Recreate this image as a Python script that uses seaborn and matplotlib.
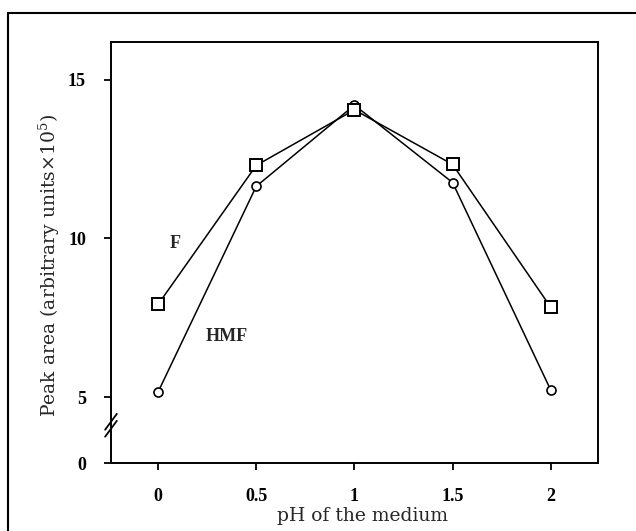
import pandas as pd
import numpy as np
import seaborn as sns
import matplotlib.pyplot as plt
from matplotlib.lines import Line2D

# data
ph = [0, 0.5, 1, 1.5, 2]
f_area = [7.92, 12.3, 14.05, 12.33, 7.83]
hmf_area = [5.16, 11.64, 14.2, 11.76, 5.22]

y_ticks = [5, 10, 15]
x_ticks = [0, 0.5, 1, 1.5, 2]
x_ticklabels = ["0", "0.5", "1", "1.5", "2"]

# broken axis: position used for the "0" tick
zero_pos = 2.92

sns.set_style("ticks")
plt.rcParams['font.family'] = ['Liberation Serif', 'DejaVu Serif']
plt.rcParams['mathtext.fontset'] = 'dejavuserif'

fig = plt.figure(figsize=(6.36, 5.31), dpi=100)
ax = fig.add_axes([0.1745, 0.128, 0.7655, 0.793])

df_f = pd.DataFrame({'ph': ph, 'area': f_area})
df_h = pd.DataFrame({'ph': ph, 'area': hmf_area})

sns.lineplot(data=df_h, x='ph', y='area', ax=ax, color='black', lw=1.1,
             marker='o', markersize=6.5, markerfacecolor='white',
             markeredgecolor='black', markeredgewidth=1.2, zorder=3)
sns.lineplot(data=df_f, x='ph', y='area', ax=ax, color='black', lw=1.1,
             marker='s', markersize=8.5, markerfacecolor='white',
             markeredgecolor='black', markeredgewidth=1.4, zorder=4)

ax.set_xlim(-0.24, 2.24)
ax.set_ylim(2.96, 16.19)
ax.set_xticks(x_ticks)
ax.set_xticklabels(x_ticklabels)
ax.set_yticks([zero_pos] + y_ticks)
ax.set_yticklabels(["0"] + [str(t) for t in y_ticks])

ax.tick_params(axis='both', direction='out', length=5, width=1.3,
               labelsize=13, colors='black')
ax.tick_params(axis='x', pad=13)
ax.tick_params(axis='y', pad=13)
for lab in ax.get_xticklabels() + ax.get_yticklabels():
    lab.set_fontweight('semibold')
for s in ax.spines.values():
    s.set_linewidth(1.4)
    s.set_color('black')

ax.set_xlabel("pH of the medium", fontsize=13.5, family='DejaVu Serif')
ax.set_ylabel(r"Peak area (arbitrary units$\times$10$^5$)", fontsize=13.5,
              family='DejaVu Serif')
ax.xaxis.set_label_coords(0.517, -0.105)
ax.yaxis.set_label_coords(-0.1, 0.47)

# series labels
ax.text(0.087, 9.84, "F", fontsize=13, fontweight='bold', ha='center', va='center')
ax.text(0.352, 6.92, "HMF", fontsize=13, fontweight='bold', ha='center', va='center')

# axis break marks
tr = ax.get_yaxis_transform()
for off in [0.0, 0.22]:
    ax.plot([-0.012, 0.012], [3.75 + off, 4.25 + off], transform=tr,
            color='black', lw=1.3, clip_on=False)

# outer frame of the figure panel
fig.add_artist(Line2D([8 / 636, 8 / 636], [0, 1 - 13 / 531], color='black', lw=1.5))
fig.add_artist(Line2D([8 / 636, 1], [1 - 13 / 531, 1 - 13 / 531], color='black', lw=1.5))

fig.savefig("out.png", dpi=100)
